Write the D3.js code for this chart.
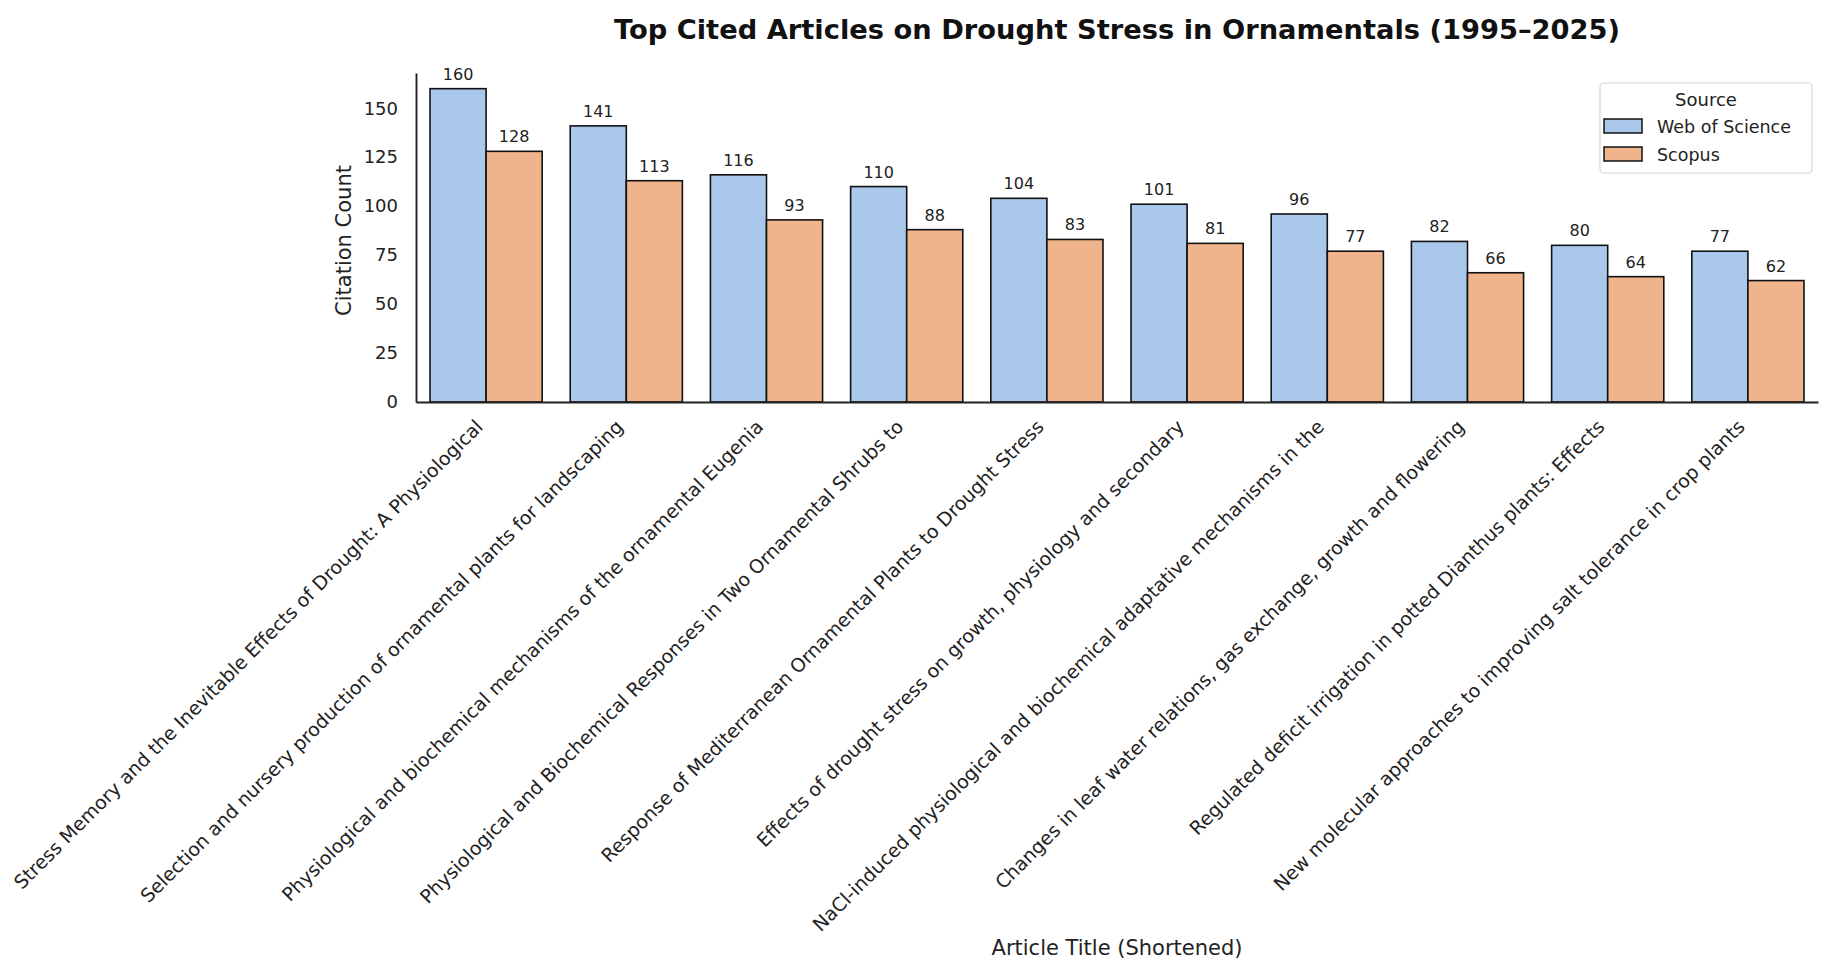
<!DOCTYPE html>
<html>
<head>
<meta charset="utf-8">
<script src="https://cdn.jsdelivr.net/npm/d3@7"></script>
<style>
  body { margin: 0; background: #fff; }
  svg { font-family: "DejaVu Sans", sans-serif; }
  .axis path.domain { stroke: #222; stroke-width: 1.9px; }
  .axis text { fill: #222; font-size: 18px; font-family: "DejaVu Sans", sans-serif; }
  .x.axis text { font-size: 19px; }
  .bar-label { font-size: 16px; fill: #222; text-anchor: middle; }
  .axis-title { font-size: 21px; fill: #222; text-anchor: middle; }
  .title { font-size: 27.3px; font-weight: bold; fill: #111; text-anchor: middle; }
  .legend text { font-size: 17.5px; fill: #222; }
</style>
</head>
<body>
<div id="vis"></div>
<script>
var titles = [
  "Stress Memory and the Inevitable Effects of Drought: A Physiological",
  "Selection and nursery production of ornamental plants for landscaping",
  "Physiological and biochemical mechanisms of the ornamental Eugenia",
  "Physiological and Biochemical Responses in Two Ornamental Shrubs to",
  "Response of Mediterranean Ornamental Plants to Drought Stress",
  "Effects of drought stress on growth, physiology and secondary",
  "NaCl-induced physiological and biochemical adaptative mechanisms in the",
  "Changes in leaf water relations, gas exchange, growth and flowering",
  "Regulated deficit irrigation in potted Dianthus plants: Effects",
  "New molecular approaches to improving salt tolerance in crop plants"
];
var sources = ["Web of Science", "Scopus"];
var wosCitations = [160, 141, 116, 110, 104, 101, 96, 82, 80, 77];
var scopusCitations = [128, 113, 93, 88, 83, 81, 77, 66, 64, 62];
var yTicks = [0, 25, 50, 75, 100, 125, 150];
var colors = ["#aac8ec", "#f0b48c"];

var width = 1842, height = 978;
var plot = {left: 416, right: 1818, top: 73, bottom: 402};

var svg = d3.select("#vis").append("svg")
  .attr("width", width)
  .attr("height", height);

var x0 = d3.scaleBand()
  .domain(titles)
  .range([plot.left, plot.right])
  .paddingInner(0.2)
  .paddingOuter(0.1);

var x1 = d3.scaleBand()
  .domain(sources)
  .range([0, x0.bandwidth()]);

var y = d3.scaleLinear()
  .domain([0, 168])
  .range([plot.bottom, plot.top]);

var color = d3.scaleOrdinal().domain(sources).range(colors);

var rows = titles.map(function(t, i) {
  return {title: t, values: [
    {source: sources[0], value: wosCitations[i]},
    {source: sources[1], value: scopusCitations[i]}
  ]};
});

// bars
var group = svg.selectAll(".group")
  .data(rows).enter()
  .append("g")
  .attr("class", "group")
  .attr("transform", function(d) { return "translate(" + x0(d.title) + ",0)"; });

group.selectAll("rect")
  .data(function(d) { return d.values; }).enter()
  .append("rect")
  .attr("x", function(d) { return x1(d.source); })
  .attr("y", function(d) { return y(d.value); })
  .attr("width", x1.bandwidth())
  .attr("height", function(d) { return y(0) - y(d.value); })
  .attr("fill", function(d) { return color(d.source); })
  .attr("stroke", "#111")
  .attr("stroke-width", 1.6);

group.selectAll(".bar-label")
  .data(function(d) { return d.values; }).enter()
  .append("text")
  .attr("class", "bar-label")
  .attr("x", function(d) { return x1(d.source) + x1.bandwidth() / 2; })
  .attr("y", function(d) { return y(d.value) - 9; })
  .text(function(d) { return d.value; });

// axes
var yAxis = svg.append("g")
  .attr("class", "y axis")
  .attr("transform", "translate(" + plot.left + ",0)")
  .call(d3.axisLeft(y).tickValues(yTicks).tickSize(0).tickPadding(18));

var xAxis = svg.append("g")
  .attr("class", "x axis")
  .attr("transform", "translate(0," + plot.bottom + ")")
  .call(d3.axisBottom(x0).tickSize(0).tickSizeOuter(0));

xAxis.selectAll(".tick text")
  .attr("x", 0)
  .attr("y", 0)
  .attr("dy", 0)
  .attr("text-anchor", "end")
  .attr("transform", "translate(-2,26) rotate(-45)");

svg.append("text")
  .attr("class", "axis-title")
  .attr("transform", "translate(351," + ((plot.top + plot.bottom) / 2 + 3) + ") rotate(-90)")
  .text("Citation Count");

svg.append("text")
  .attr("class", "axis-title")
  .attr("x", (plot.left + plot.right) / 2)
  .attr("y", 955)
  .text("Article Title (Shortened)");

svg.append("text")
  .attr("class", "title")
  .attr("x", (plot.left + plot.right) / 2)
  .attr("y", 39)
  .text("Top Cited Articles on Drought Stress in Ornamentals (1995\u20132025)");

// legend
var legend = svg.append("g")
  .attr("class", "legend")
  .attr("transform", "translate(1600,83)");

legend.append("rect")
  .attr("width", 212)
  .attr("height", 90)
  .attr("rx", 4)
  .attr("fill", "#fff")
  .attr("stroke", "#d6d6d6")
  .attr("stroke-width", 1.2);

legend.append("text")
  .attr("x", 106)
  .attr("y", 23)
  .attr("text-anchor", "middle")
  .style("font-size", "18px")
  .text("Source");

var item = legend.selectAll(".item")
  .data(sources).enter()
  .append("g")
  .attr("class", "item")
  .attr("transform", function(d, i) { return "translate(4," + (36 + i * 28) + ")"; });

item.append("rect")
  .attr("width", 38)
  .attr("height", 14)
  .attr("fill", function(d) { return color(d); })
  .attr("stroke", "#111")
  .attr("stroke-width", 1.5);

item.append("text")
  .attr("x", 53)
  .attr("y", 14)
  .text(function(d) { return d; });
</script>
</body>
</html>
